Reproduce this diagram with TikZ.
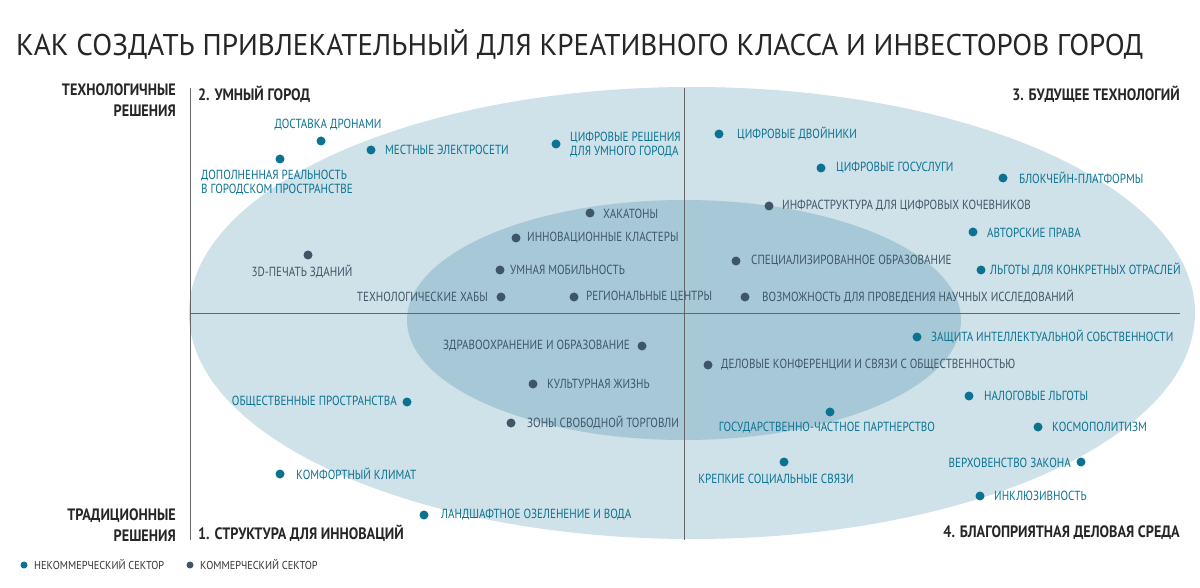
\documentclass[tikz,border=0pt]{standalone}
\usepackage{fontspec}
\setmainfont{PT Sans}[FakeStretch=0.84]
\newfontfamily\titlefont{PT Sans}[FakeStretch=0.97]
\newfontfamily\hdfont{PT Sans}[FakeStretch=0.86]
\newfontfamily\lgfont{PT Sans}[FakeStretch=0.9]
\begin{document}
\begin{tikzpicture}[x=1pt,y=-1pt,
  tdot/.style={circle,fill=teal1,inner sep=0pt,minimum size=9pt},
  ddot/.style={circle,fill=dark1,inner sep=0pt,minimum size=9pt},
  tl/.style={text=teal1,font=\fontsize{13.2}{14}\selectfont,inner sep=0pt},
  dl/.style={text=dark1,font=\fontsize{13.2}{14}\selectfont,inner sep=0pt},
  hd/.style={text=black!85,font=\hdfont\fontsize{16.5}{21}\selectfont\bfseries,inner sep=0pt},
  lg/.style={text=black!80,font=\lgfont\fontsize{11.5}{12}\selectfont,anchor=west,inner sep=0pt}]
\definecolor{teal1}{HTML}{0B7290}
\definecolor{dark1}{HTML}{3E5666}
\definecolor{outerc}{HTML}{CFE1E9}
\definecolor{innerc}{HTML}{A7C9D7}
\useasboundingbox (0,0) rectangle (1200,588);
\fill[outerc] (692,313) ellipse [x radius=503, y radius=226];
\fill[innerc] (684,320) ellipse [x radius=277, y radius=120];
\draw[black!60,line width=0.8pt] (190,88) -- (190,540);
\draw[black!60,line width=0.8pt] (684,88) -- (684,540);
\draw[black!60,line width=0.8pt] (190,313) -- (1180,313);
\node[anchor=west,inner sep=0pt,font=\titlefont\fontsize{30}{32}\selectfont,text=black!85] (title) at (16,44) {КАК СОЗДАТЬ ПРИВЛЕКАТЕЛЬНЫЙ ДЛЯ КРЕАТИВНОГО КЛАССА И ИНВЕСТОРОВ ГОРОД};
\node[hd,anchor=north east,align=right] (h1) at (176,84) {ТЕХНОЛОГИЧНЫЕ\\РЕШЕНИЯ};
\node[hd,anchor=west] (h2) at (198,94) {2. УМНЫЙ ГОРОД};
\node[hd,anchor=east] (h3) at (1180,94) {3. БУДУЩЕЕ ТЕХНОЛОГИЙ};
\node[hd,anchor=south east,align=right] (h4) at (176,542) {ТРАДИЦИОННЫЕ\\РЕШЕНИЯ};
\node[hd,anchor=west] (h5) at (198,533) {1. СТРУКТУРА ДЛЯ ИННОВАЦИЙ};
\node[hd,anchor=east] (h6) at (1180,533) {4. БЛАГОПРИЯТНАЯ ДЕЛОВАЯ СРЕДА};
% teal
\node[tdot] (t1) at (321,141) {}; \node[tl] at (328,125) {ДОСТАВКА ДРОНАМИ};
\node[tdot] (t2) at (280,159) {}; \node[tl,anchor=north west,align=left] at (201,170) {ДОПОЛНЕННАЯ РЕАЛЬНОСТЬ\\В ГОРОДСКОМ ПРОСТРАНСТВЕ};
\node[tdot] (t3) at (371,150) {}; \node[tl,anchor=west] at (385,150) {МЕСТНЫЕ ЭЛЕКТРОСЕТИ};
\node[tdot] (t4) at (556,144) {}; \node[tl,anchor=west,align=left] at (570,145) {ЦИФРОВЫЕ РЕШЕНИЯ\\ДЛЯ УМНОГО ГОРОДА};
\node[tdot] (t5) at (719,134) {}; \node[tl,anchor=west] at (737,134) {ЦИФРОВЫЕ ДВОЙНИКИ};
\node[tdot] (t6) at (821,168) {}; \node[tl,anchor=west] at (836,168) {ЦИФРОВЫЕ ГОСУСЛУГИ};
\node[tdot] (t7) at (1003,178) {}; \node[tl,anchor=west] at (1019,178) {БЛОКЧЕЙН-ПЛАТФОРМЫ};
\node[tdot] (t8) at (973,232) {}; \node[tl,anchor=west] at (987,233) {АВТОРСКИЕ ПРАВА};
\node[tdot] (t9) at (981,270) {}; \node[tl,anchor=west] at (990,270) {ЛЬГОТЫ ДЛЯ КОНКРЕТНЫХ ОТРАСЛЕЙ};
\node[tdot] (t10) at (917,337) {}; \node[tl,anchor=west] at (931,337) {ЗАЩИТА ИНТЕЛЛЕКТУАЛЬНОЙ СОБСТВЕННОСТИ};
\node[tdot] (t11) at (969,396) {}; \node[tl,anchor=west] at (984,396) {НАЛОГОВЫЕ ЛЬГОТЫ};
\node[tdot] (t12) at (1038,427) {}; \node[tl,anchor=west] at (1052,427) {КОСМОПОЛИТИЗМ};
\node[tdot] (t13) at (1081,462) {}; \node[tl,anchor=east] at (1071,463) {ВЕРХОВЕНСТВО ЗАКОНА};
\node[tdot] (t14) at (980,496) {}; \node[tl,anchor=west] at (994,496) {ИНКЛЮЗИВНОСТЬ};
\node[tdot] (t15) at (830,412) {}; \node[tl] at (827,428) {ГОСУДАРСТВЕННО-ЧАСТНОЕ ПАРТНЕРСТВО};
\node[tdot] (t16) at (784,462) {}; \node[tl] at (776,480) {КРЕПКИЕ СОЦИАЛЬНЫЕ СВЯЗИ};
\node[tdot] (t17) at (407,402) {}; \node[tl,anchor=east] at (397,402) {ОБЩЕСТВЕННЫЕ ПРОСТРАНСТВА};
\node[tdot] (t18) at (280,474) {}; \node[tl,anchor=west] at (296,474) {КОМФОРТНЫЙ КЛИМАТ};
\node[tdot] (t19) at (424,515) {}; \node[tl,anchor=west] at (441,515) {ЛАНДШАФТНОЕ ОЗЕЛЕНЕНИЕ И ВОДА};
% dark
\node[ddot] (d1) at (308,255) {}; \node[dl] at (302,272) {3D-ПЕЧАТЬ ЗДАНИЙ};
\node[ddot] (d2) at (590,213) {}; \node[dl,anchor=west] at (603,214) {ХАКАТОНЫ};
\node[ddot] (d3) at (516,238) {}; \node[dl,anchor=west] at (527,238) {ИННОВАЦИОННЫЕ КЛАСТЕРЫ};
\node[ddot] (d4) at (500,270) {}; \node[dl,anchor=west] at (510,270) {УМНАЯ МОБИЛЬНОСТЬ};
\node[ddot] (d5) at (501,297) {}; \node[dl,anchor=east] at (488,297) {ТЕХНОЛОГИЧЕСКИЕ ХАБЫ};
\node[ddot] (d6) at (574,297) {}; \node[dl,anchor=west] at (586,297) {РЕГИОНАЛЬНЫЕ ЦЕНТРЫ};
\node[ddot] (d7) at (769,206) {}; \node[dl,anchor=west] at (782,206) {ИНФРАСТРУКТУРА ДЛЯ ЦИФРОВЫХ КОЧЕВНИКОВ};
\node[ddot] (d8) at (736,261) {}; \node[dl,anchor=west] at (751,261) {СПЕЦИАЛИЗИРОВАННОЕ ОБРАЗОВАНИЕ};
\node[ddot] (d9) at (745,297) {}; \node[dl,anchor=west] at (762,297) {ВОЗМОЖНОСТЬ ДЛЯ ПРОВЕДЕНИЯ НАУЧНЫХ ИССЛЕДОВАНИЙ};
\node[ddot] (d10) at (642,346) {}; \node[dl,anchor=east] at (630,346) {ЗДРАВООХРАНЕНИЕ И ОБРАЗОВАНИЕ};
\node[ddot] (d11) at (708,365) {}; \node[dl,anchor=west] at (721,365) {ДЕЛОВЫЕ КОНФЕРЕНЦИИ И СВЯЗИ С ОБЩЕСТВЕННОСТЬЮ};
\node[ddot] (d12) at (533,384) {}; \node[dl,anchor=west] at (547,384) {КУЛЬТУРНАЯ ЖИЗНЬ};
\node[ddot] (d13) at (511,423) {}; \node[dl,anchor=west] at (527,423) {ЗОНЫ СВОБОДНОЙ ТОРГОВЛИ};
% legend
\node[tdot,minimum size=7pt] (l1) at (24,565) {}; \node[lg] at (34,565) {НЕКОММЕРЧЕСКИЙ СЕКТОР};
\node[ddot,minimum size=7pt] (l2) at (190,565) {}; \node[lg] at (200,565) {КОММЕРЧЕСКИЙ СЕКТОР};
\end{tikzpicture}
\end{document}
